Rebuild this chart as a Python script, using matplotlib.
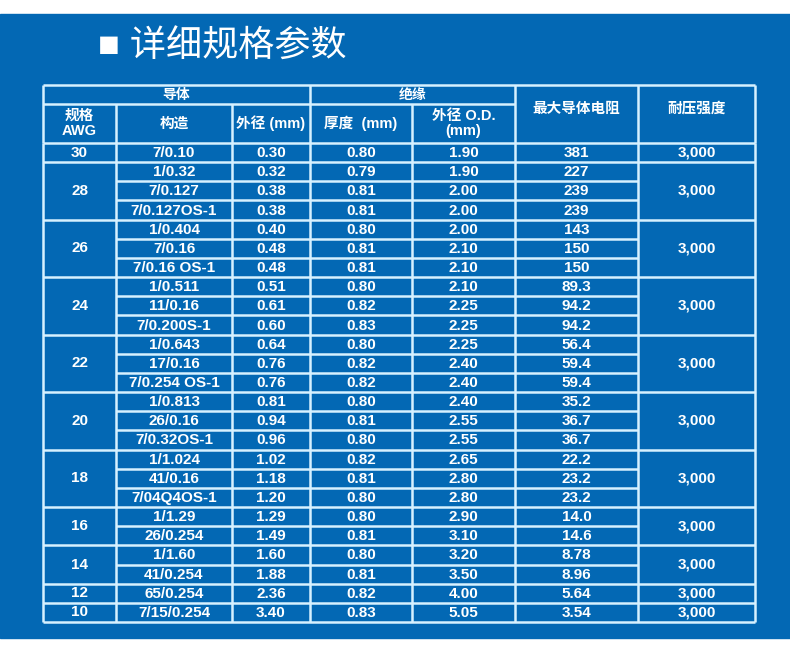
import matplotlib.pyplot as plt
from matplotlib.patches import Rectangle

plt.rcParams['font.family'] = ['Liberation Sans', 'Noto Sans CJK SC', 'DejaVu Sans']

title = "■ 详细规格参数"
group_headers = ["导体", "绝缘"]
col_headers = ["规格\nAWG", "构造", "外径 (mm)", "厚度  (mm)", "外径 O.D.\n(mm)", "最大导体电阻", "耐压强度"]

awg = ["30", "28", "26", "24", "22", "20", "18", "16", "14", "12", "10"]
group_size = [1, 3, 3, 3, 3, 3, 3, 2, 2, 1, 1]
construction = ["7/0.10", "1/0.32", "7/0.127", "7/0.127OS-1", "1/0.404", "7/0.16", "7/0.16 OS-1",
                "1/0.511", "11/0.16", "7/0.200S-1", "1/0.643", "17/0.16", "7/0.254 OS-1",
                "1/0.813", "26/0.16", "7/0.32OS-1", "1/1.024", "41/0.16", "7/04Q4OS-1",
                "1/1.29", "26/0.254", "1/1.60", "41/0.254", "65/0.254", "7/15/0.254"]
cond_od = ["0.30", "0.32", "0.38", "0.38", "0.40", "0.48", "0.48", "0.51", "0.61", "0.60",
           "0.64", "0.76", "0.76", "0.81", "0.94", "0.96", "1.02", "1.18", "1.20",
           "1.29", "1.49", "1.60", "1.88", "2.36", "3.40"]
thickness = ["0.80", "0.79", "0.81", "0.81", "0.80", "0.81", "0.81", "0.80", "0.82", "0.83",
             "0.80", "0.82", "0.82", "0.80", "0.81", "0.80", "0.82", "0.81", "0.80",
             "0.80", "0.81", "0.80", "0.81", "0.82", "0.83"]
ins_od = ["1.90", "1.90", "2.00", "2.00", "2.00", "2.10", "2.10", "2.10", "2.25", "2.25",
          "2.25", "2.40", "2.40", "2.40", "2.55", "2.55", "2.65", "2.80", "2.80",
          "2.90", "3.10", "3.20", "3.50", "4.00", "5.05"]
resistance = ["381", "227", "239", "239", "143", "150", "150", "89.3", "94.2", "94.2",
              "56.4", "59.4", "59.4", "35.2", "36.7", "36.7", "22.2", "23.2", "23.2",
              "14.0", "14.6", "8.78", "8.96", "5.64", "3.54"]
voltage = ["3,000"] * len(awg)

BG = "#0368b4"
LINE = "#d6f1ff"
colx = [43, 116, 232, 310, 412, 515, 638, 755]
y_top, y_mid, y_head = 85, 104, 143
row_h = (622 - y_head) / 25

fig = plt.figure(figsize=(7.9, 6.55), dpi=100)
ax = fig.add_axes([0, 0, 1, 1])
ax.set_xlim(0, 790)
ax.set_ylim(655, 0)
ax.axis("off")
ax.add_patch(Rectangle((0, 14), 790, 624, color=BG, zorder=0))


def line(x0, y0, x1, y1):
    ax.plot([x0, x1], [y0, y1], color=LINE, lw=1.8, solid_capstyle="butt")


def txt(x, y, s, size=11, ls=1.0):
    ax.text(x, y, s, color="white", ha="center", va="center", fontsize=size,
            fontweight="bold", linespacing=ls)


ax.text(98, 47, title, color="white", fontsize=26, va="center", ha="left")

# header
line(colx[0], y_top, colx[-1], y_top)
line(colx[0], y_mid, colx[5], y_mid)
for x in colx:
    y0 = y_mid if x in (colx[1], colx[2], colx[4]) else y_top
    line(x, y0, x, y_head)
txt((colx[0] + colx[3]) / 2, (y_top + y_mid) / 2, group_headers[0], 10)
txt((colx[3] + colx[5]) / 2, (y_top + y_mid) / 2, group_headers[1], 10)
for i, h in enumerate(col_headers):
    yc = (y_mid + y_head) / 2 if i < 5 else (y_top + y_head) / 2 - 5
    txt((colx[i] + colx[i + 1]) / 2, yc, h, 10.5, 1.15)

# data rows
row_cols = [construction, cond_od, thickness, ins_od, resistance]
r = 0
for g, n in enumerate(group_size):
    yg = y_head + r * row_h
    line(colx[0], yg, colx[-1], yg)
    txt((colx[0] + colx[1]) / 2, yg + n * row_h / 2, awg[g])
    txt((colx[6] + colx[7]) / 2, yg + n * row_h / 2, voltage[g])
    for k in range(n):
        yr = yg + k * row_h
        if k > 0:
            line(colx[1], yr, colx[6], yr)
        for c, vals in enumerate(row_cols):
            txt((colx[c + 1] + colx[c + 2]) / 2, yr + row_h / 2 + 0.5, vals[r + k])
    r += n
y_end = y_head + r * row_h
line(colx[0], y_end, colx[-1], y_end)
for x in colx:
    line(x, y_head, x, y_end)

fig.savefig("out.png", dpi=100, facecolor="white")
